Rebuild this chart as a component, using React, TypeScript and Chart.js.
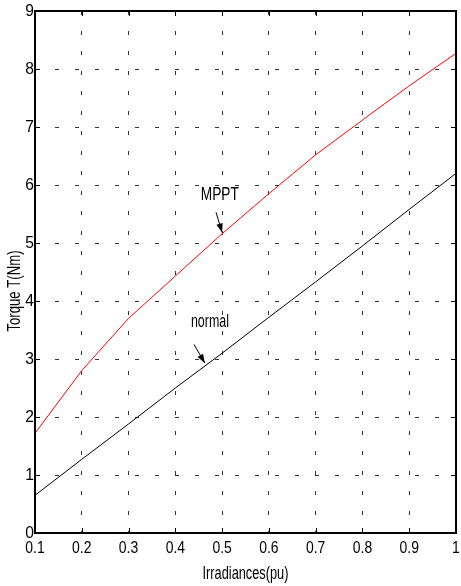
import React, { useEffect, useRef } from "react";
import { Chart, registerables } from "chart.js";

Chart.register(...registerables);

const irradiance = [0.1, 0.2, 0.3, 0.4, 0.5, 0.6, 0.7, 0.8, 0.9, 1.0];
const mpptTorque = [1.72, 2.8, 3.7, 4.43, 5.16, 5.85, 6.52, 7.12, 7.71, 8.27];
const normalTorque = [0.65, 1.27, 1.88, 2.5, 3.1, 3.72, 4.33, 4.95, 5.58, 6.2];
const xTickValues = [0.1, 0.2, 0.3, 0.4, 0.5, 0.6, 0.7, 0.8, 0.9, 1];
const xTickLabels = ["0.1", "0.2", "0.3", "0.4", "0.5", "0.6", "0.7", "0.8", "0.9", "1"];
const yTickValues = [0, 1, 2, 3, 4, 5, 6, 7, 8, 9];
const yTickLabels = ["0", "1", "2", "3", "4", "5", "6", "7", "8", "9"];
const xTitle = "Irradiances(pu)";
const yTitle = "Torque T(Nm)";
const seriesNames = ["MPPT", "normal"];

// annotation anchors in data coordinates: [textX, textY, arrowFromX, arrowFromY, arrowToX, arrowToY]
const mpptNote = [0.495, 5.83, 0.487, 5.53, 0.5, 5.18];
const normalNote = [0.474, 3.64, 0.44, 3.25, 0.463, 2.93];

const FONT = '"Liberation Sans", Arial, sans-serif';

function condensedText(
  ctx: CanvasRenderingContext2D,
  text: string,
  x: number,
  y: number,
  size: number,
  sx: number,
  align: CanvasTextAlign,
  rotate = 0
) {
  ctx.save();
  ctx.translate(x, y);
  if (rotate) ctx.rotate(rotate);
  ctx.scale(sx, 1);
  ctx.font = `${size}px ${FONT}`;
  ctx.textAlign = align;
  ctx.textBaseline = "middle";
  ctx.fillStyle = "#000";
  ctx.fillText(text, 0, 0);
  ctx.restore();
}

function arrow(ctx: CanvasRenderingContext2D, x1: number, y1: number, x2: number, y2: number) {
  const ang = Math.atan2(y2 - y1, x2 - x1);
  const len = 9;
  const wid = 3.2;
  ctx.save();
  ctx.strokeStyle = "#000";
  ctx.fillStyle = "#000";
  ctx.lineWidth = 1;
  ctx.beginPath();
  ctx.moveTo(x1, y1);
  ctx.lineTo(x2, y2);
  ctx.stroke();
  const bx = x2 - len * Math.cos(ang);
  const by = y2 - len * Math.sin(ang);
  ctx.beginPath();
  ctx.moveTo(x2, y2);
  ctx.lineTo(bx + wid * Math.sin(ang), by - wid * Math.cos(ang));
  ctx.lineTo(bx - wid * Math.sin(ang), by + wid * Math.cos(ang));
  ctx.closePath();
  ctx.fill();
  ctx.restore();
}

const framePlugin = {
  id: "matlabFrame",
  afterDraw(chart: any) {
    const ctx: CanvasRenderingContext2D = chart.ctx;
    const { left, right, top, bottom } = chart.chartArea;
    const xs = chart.scales.x;
    const ys = chart.scales.y;
    ctx.save();
    ctx.strokeStyle = "#000";
    ctx.lineWidth = 2;
    ctx.strokeRect(left, top, right - left, bottom - top);
    ctx.lineWidth = 1;
    ctx.beginPath();
    const tl = 5;
    xTickValues.forEach((v) => {
      const px = Math.round(xs.getPixelForValue(v)) + 0.5;
      ctx.moveTo(px, bottom);
      ctx.lineTo(px, bottom - tl);
      ctx.moveTo(px, top);
      ctx.lineTo(px, top + tl);
    });
    yTickValues.forEach((v) => {
      const py = Math.round(ys.getPixelForValue(v)) + 0.5;
      ctx.moveTo(left, py);
      ctx.lineTo(left + tl, py);
      ctx.moveTo(right, py);
      ctx.lineTo(right - tl, py);
    });
    ctx.stroke();
    xTickValues.forEach((v, i) => {
      condensedText(ctx, xTickLabels[i], xs.getPixelForValue(v), bottom + 15, 17, 0.82, "center");
    });
    yTickValues.forEach((v, i) => {
      condensedText(ctx, yTickLabels[i], left - 1, ys.getPixelForValue(v), 17, 0.92, "right");
    });
    condensedText(ctx, xTitle, (left + right) / 2, bottom + 41, 18, 0.71, "center");
    condensedText(ctx, yTitle, 15, 291, 18, 0.73, "center", -Math.PI / 2);
    const notes = [mpptNote, normalNote];
    const scales = [0.76, 0.69];
    notes.forEach((n, i) => {
      condensedText(ctx, seriesNames[i], xs.getPixelForValue(n[0]), ys.getPixelForValue(n[1]), 18, scales[i], "center");
      arrow(
        ctx,
        xs.getPixelForValue(n[2]),
        ys.getPixelForValue(n[3]),
        xs.getPixelForValue(n[4]),
        ys.getPixelForValue(n[5])
      );
    });
    ctx.restore();
  },
};

export default function App() {
  const ref = useRef<HTMLCanvasElement | null>(null);
  useEffect(() => {
    document.body.style.margin = "0";
    const canvas = ref.current;
    if (!canvas) return;
    const chart = new Chart(canvas, {
      type: "line",
      data: {
        datasets: [
          {
            label: seriesNames[0],
            data: irradiance.map((x, i) => ({ x, y: mpptTorque[i] })),
            borderColor: "#ff0000",
            borderWidth: 1,
            pointRadius: 0,
            tension: 0,
          },
          {
            label: seriesNames[1],
            data: irradiance.map((x, i) => ({ x, y: normalTorque[i] })),
            borderColor: "#000000",
            borderWidth: 1,
            pointRadius: 0,
            tension: 0,
          },
        ],
      },
      options: {
        animation: false,
        responsive: false,
        devicePixelRatio: 1,
        layout: { padding: { top: 11, right: 5, left: 0, bottom: 0 } },
        plugins: { legend: { display: false }, tooltip: { enabled: false } },
        scales: {
          x: {
            type: "linear",
            min: 0.1,
            max: 1,
            afterBuildTicks: (s: any) => {
              s.ticks = xTickValues.map((v) => ({ value: v }));
            },
            afterFit: (s: any) => {
              s.height = 53;
            },
            ticks: { display: false },
            grid: { color: "#333", lineWidth: 1, drawTicks: false },
            border: { display: false, dash: [4, 16] },
          },
          y: {
            type: "linear",
            min: 0,
            max: 9,
            afterBuildTicks: (s: any) => {
              s.ticks = yTickValues.map((v) => ({ value: v }));
            },
            afterFit: (s: any) => {
              s.width = 35;
            },
            ticks: { display: false },
            grid: { color: "#333", lineWidth: 1, drawTicks: false },
            border: { display: false, dash: [4, 16] },
          },
        },
      },
      plugins: [framePlugin],
    });
    return () => chart.destroy();
  }, []);
  return (
    <div style={{ position: "absolute", left: 0, top: 0, width: 461, height: 586, background: "#fff" }}>
      <canvas ref={ref} width={461} height={586} />
    </div>
  );
}
